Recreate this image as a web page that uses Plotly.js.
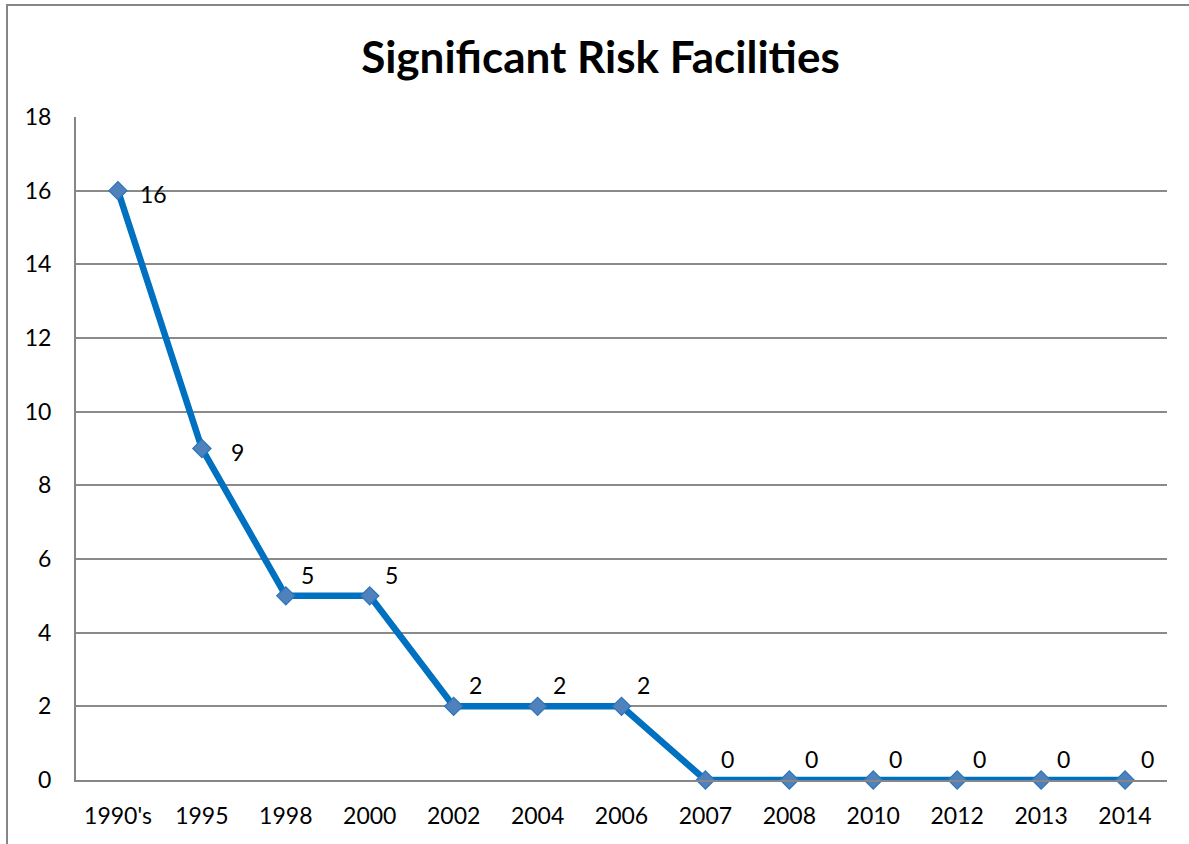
<!DOCTYPE html>
<html>
<head>
<meta charset="utf-8">
<script src="https://cdn.plot.ly/plotly-3.0.1.min.js"></script>
<style>
html,body{margin:0;padding:0;background:#fff;}
#chart{width:1189px;height:844px;}
</style>
</head>
<body>
<div id="chart"></div>
<script>
const categories = ["1990's","1995","1998","2000","2002","2004","2006","2007","2008","2010","2012","2013","2014"];
const facilities = [16,9,5,5,2,2,2,0,0,0,0,0,0];
const yTicks = [0,2,4,6,8,10,12,14,16,18];

const FONT = 'Lato, "Open Sans", sans-serif';

const annotations = categories.map((c, i) => {
  const beside = i < 2;
  return {
    x: i, y: facilities[i], xref: 'x', yref: 'y',
    text: String(facilities[i]), showarrow: false,
    xanchor: 'center', yanchor: 'middle',
    xshift: beside ? 36 : 22, yshift: beside ? -3 : 21,
    font: {family: FONT, size: 23, color: '#000'}
  };
});

const trace = {
  x: categories.map((c, i) => i),
  y: facilities,
  type: 'scatter', mode: 'lines+markers',
  line: {color: '#0070C0', width: 6.5},
  marker: {symbol: 'diamond', size: 14, color: '#4F81BD', line: {color: '#2E75B6', width: 1.2}},
  cliponaxis: false, hoverinfo: 'skip'
};

const layout = {
  width: 1189, height: 844,
  margin: {l: 76, r: 22, t: 117, b: 64},
  paper_bgcolor: '#fff', plot_bgcolor: '#fff',
  showlegend: false,
  title: {text: '<b>Significant Risk Facilities</b>', x: 0.505, xanchor: 'center', y: 0.932, yanchor: 'middle',
          font: {family: FONT, size: 44, color: '#000'}},
  xaxis: {
    range: [-0.5, 12.5], tickmode: 'array', tickvals: categories.map((c, i) => i), ticktext: categories,
    showgrid: false, zeroline: false, showline: true, linecolor: '#868686', linewidth: 2,
    ticks: '', ticklabelstandoff: 14,
    tickfont: {family: FONT, size: 23, color: '#000'}, fixedrange: true
  },
  yaxis: {
    range: [0, 18], tickmode: 'array', tickvals: yTicks, ticktext: yTicks.map(String),
    showgrid: true, gridcolor: '#8a8a8a', gridwidth: 2,
    zeroline: false, showline: true, linecolor: '#868686', linewidth: 2,
    ticks: '', ticklabelstandoff: 18,
    tickfont: {family: FONT, size: 23, color: '#000'}, fixedrange: true
  },
  annotations: annotations,
  shapes: [{
    type: 'rect', xref: 'paper', yref: 'paper',
    x0: (7 - 76) / 1091, x1: (1195 - 76) / 1091,
    y0: -(850 - 780) / 663, y1: 1 + (117 - 5) / 663,
    line: {color: '#868686', width: 2}, fillcolor: 'rgba(0,0,0,0)', layer: 'below'
  }]
};

Plotly.newPlot('chart', [trace], layout, {displayModeBar: false, staticPlot: true});
</script>
</body>
</html>
